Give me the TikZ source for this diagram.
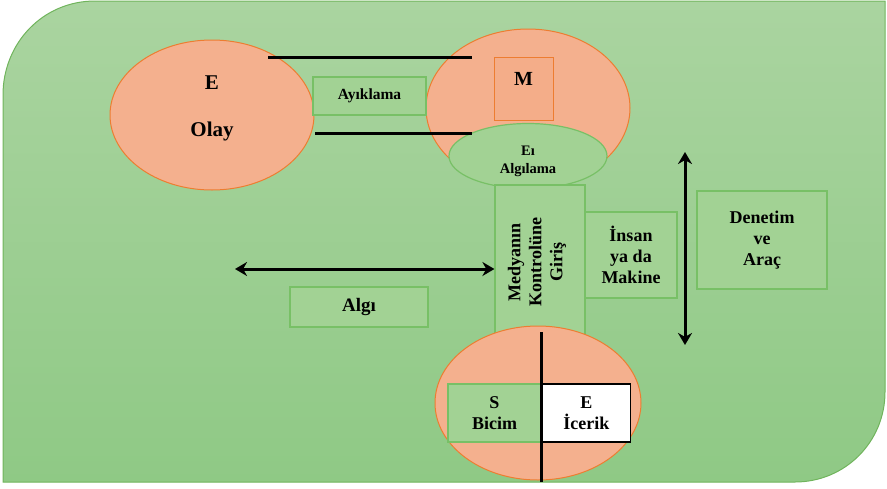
\documentclass[tikz,border=0pt]{standalone}
\usepackage{fontspec}
\setmainfont{Liberation Serif}
\usetikzlibrary{arrows.meta,positioning,shapes.geometric}
\definecolor{bgtop}{RGB}{170,212,160}
\definecolor{bgbot}{RGB}{143,201,133}
\definecolor{bgline}{RGB}{112,180,92}
\definecolor{blobfill}{RGB}{244,176,142}
\definecolor{blobline}{RGB}{237,125,49}
\definecolor{boxfill}{RGB}{162,210,148}
\definecolor{boxline}{RGB}{120,192,102}
\tikzset{
	blob/.style={ellipse,draw=blobline,fill=blobfill,line width=1pt,inner sep=0pt},
	green box/.style={draw=boxline,fill=boxfill,line width=1.2pt,inner sep=0pt,align=center},
	bar/.style={line width=3pt,black},
	two way/.style={line width=3pt,{Stealth[length=12pt,width=14pt]}-{Stealth[length=12pt,width=14pt]}},
	fs/.style={font=\bfseries\fontsize{#1}{21}\selectfont,align=center},
	fs/.default=18
}
\begin{document}
\begin{tikzpicture}[x=1pt,y=-1pt]
	\useasboundingbox (0,0) rectangle (887,488);
	\shadedraw[top color=bgtop,bottom color=bgbot,draw=bgline,line width=1pt]
		(3,482) -- (3,95) .. controls (3,43) and (43,1) .. (95,1) -- (885,1)
		-- (885,392) .. controls (885,442) and (845,482) .. (795,482) -- cycle;
	% olay / medya
	\node[blob,minimum width=204pt,minimum height=150pt] (olay) at (212,115) {};
	\node[fs=21] (olaytext) at (212,108) {E\\[26pt]Olay};
	\node[blob,minimum width=204pt,minimum height=158pt] (medya) at (528,108) {};
	\node[draw=blobline,fill=blobfill!95!blobline,line width=1pt,minimum width=59pt,minimum height=63pt] (mbox) at (523.5,88.5) {};
	\node[fs=20,below=12pt of mbox.north] (mtext) {M};
	\node[ellipse,draw=boxline,fill=boxfill,line width=1.2pt,minimum width=158pt,minimum height=65pt,inner sep=0pt] (algilama) at (528,156) {};
	\node[fs=14.5] (algilamatext) at (528,161) {Eı\\[-3pt]Algılama};
	\coordinate (topL) at (268,57);
	\coordinate (topR) at (472,57);
	\coordinate (botL) at (315,133);
	\coordinate (botR) at (472,133);
	\draw[bar] (topL) -- (topR);
	\draw[bar] (botL) -- (botR);
	\node[green box,fs=15.5,minimum width=113pt,minimum height=38pt] (ayiklama) at (369.5,96) {Ayıklama};
	% giris
	\node[green box,minimum width=90pt,minimum height=150pt] (giris) at (540,260) {};
	\node[fs,rotate=90] (giristext) at (537,262) {Medyanın\\Kontrolüne\\Giriş};
	\node[green box,fs,minimum width=92pt,minimum height=86pt] (insan) at (631,255) {İnsan\\ya da\\Makine};
	\node[green box,fs,minimum width=130pt,minimum height=98pt] (denetim) at (762,240) {Denetim\\ve\\Araç};
	\node[green box,fs=19,minimum width=138pt,minimum height=40pt] (algi) at (359,307) {Algı};
	% bicim / icerik
	\node[blob,minimum width=206pt,minimum height=154pt] (bicimicerik) at (538,403) {};
	\node[green box,fs,minimum width=93pt,minimum height=58pt] (bicim) at (494.5,413) {S\\Bicim};
	\node[draw=black,fill=white,line width=1.5pt,inner sep=0pt,fs,minimum width=88pt,minimum height=58pt,right=0pt of bicim] (icerik) {E\\İcerik};
	\coordinate (cutT) at (541,332);
	\coordinate (cutB) at (541,482);
	\draw[bar] (cutT) -- (cutB);
	% arrows
	\coordinate (algiL) at (235,269);
	\draw[two way] (algiL) -- (giris.west |- algiL);
	\coordinate (denetimT) at (685,152);
	\coordinate (denetimB) at (685,345);
	\draw[two way] (denetimT) -- (denetimB);
\end{tikzpicture}
\end{document}
